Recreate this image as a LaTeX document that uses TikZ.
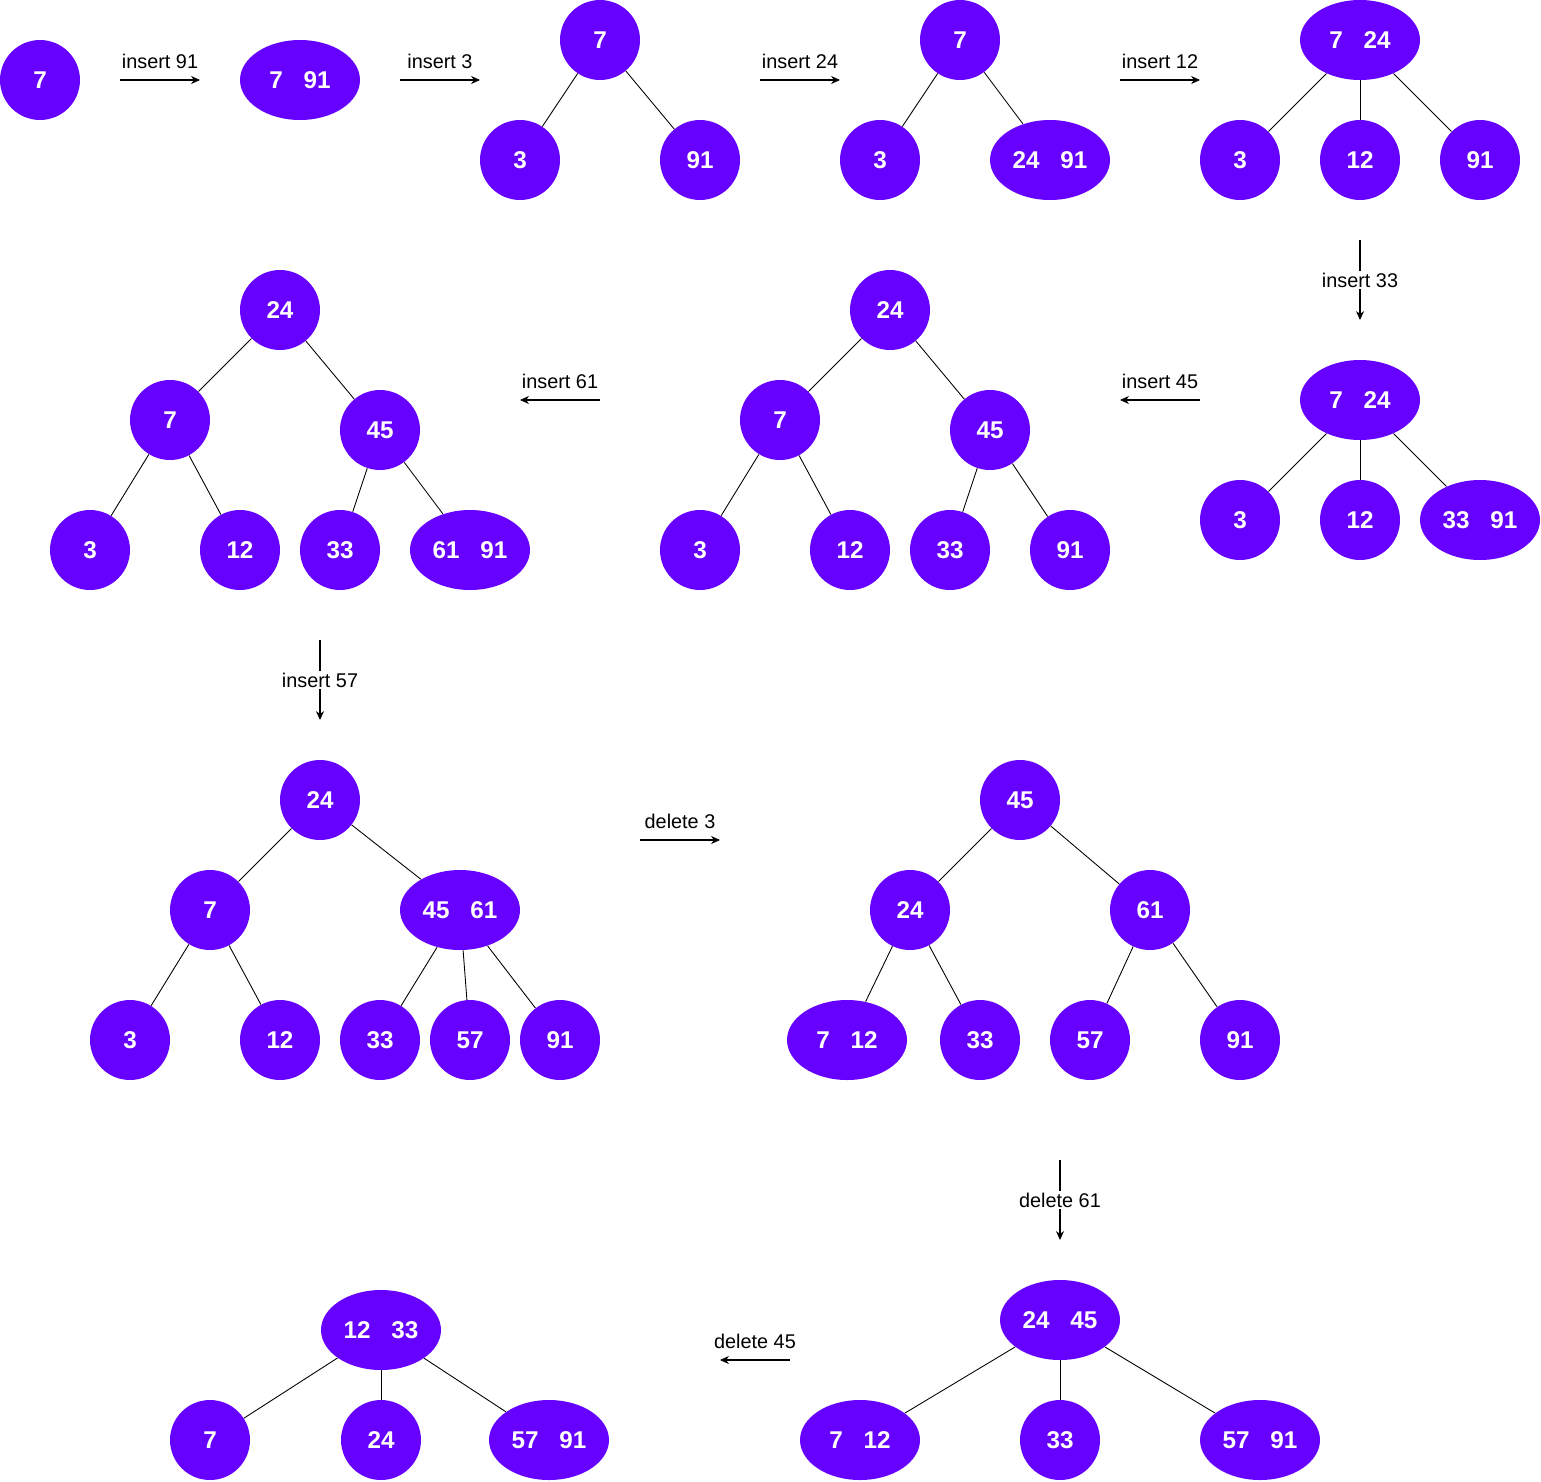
\documentclass[tikz,border=0pt]{standalone}
\usepackage{fontspec}
\setmainfont{Liberation Sans}
\usetikzlibrary{arrows.meta,shapes.geometric}
\definecolor{keypurple}{HTML}{6600FF}
\newcommand{\kgap}{\hspace*{0.85em}}

\begin{document}
\begin{tikzpicture}[x=0.02cm,y=-0.02cm,
    key/.style={fill=keypurple,text=white,font=\bfseries\fontsize{13.8}{16}\selectfont,inner sep=0pt},
    vertex/.style={key,circle,minimum size=1.6cm},
    pair/.style={key,ellipse,minimum width=2.4cm,minimum height=1.6cm},
    move/.style={draw,line width=0.6pt,-{Stealth[length=5pt,width=4.5pt,inset=1.5pt]}},
    movelabel/.style={font=\fontsize{11.3}{13}\selectfont,inner sep=1pt}]

      \useasboundingbox (0,0) rectangle (1541,1481);

      % first row
      \node[vertex] (a1) at (40,80)   {7};
      \node[pair]   (b1) at (300,80)  {7\kgap 91};

      \node[vertex] (c1) at (600,40)  {7};
      \node[vertex] (c2) at (520,160) {3};
      \node[vertex] (c3) at (700,160) {91};

      \node[vertex] (d1) at (960,40)   {7};
      \node[vertex] (d2) at (880,160)  {3};
      \node[pair]   (d3) at (1050,160) {24\kgap 91};

      \node[pair]   (e1) at (1360,40)  {7\kgap 24};
      \node[vertex] (e2) at (1240,160) {3};
      \node[vertex] (e3) at (1360,160) {12};
      \node[vertex] (e4) at (1480,160) {91};

      % second row
      \node[pair]   (f1) at (1360,400) {7\kgap 24};
      \node[vertex] (f2) at (1240,520) {3};
      \node[vertex] (f3) at (1360,520) {12};
      \node[pair]   (f4) at (1480,520) {33\kgap 91};

      \node[vertex] (g1) at (890,310)  {24};
      \node[vertex] (g2) at (780,420)  {7};
      \node[vertex] (g3) at (990,430)  {45};
      \node[vertex] (g4) at (700,550)  {3};
      \node[vertex] (g5) at (850,550)  {12};
      \node[vertex] (g6) at (950,550)  {33};
      \node[vertex] (g7) at (1070,550) {91};

      \node[vertex] (h1) at (280,310) {24};
      \node[vertex] (h2) at (170,420) {7};
      \node[vertex] (h3) at (380,430) {45};
      \node[vertex] (h4) at (90,550)  {3};
      \node[vertex] (h5) at (240,550) {12};
      \node[vertex] (h6) at (340,550) {33};
      \node[pair]   (h7) at (470,550) {61\kgap 91};

      % third row
      \node[vertex] (i1) at (320,800)  {24};
      \node[vertex] (i2) at (210,910)  {7};
      \node[pair]   (i3) at (460,910)  {45\kgap 61};
      \node[vertex] (i4) at (130,1040) {3};
      \node[vertex] (i5) at (280,1040) {12};
      \node[vertex] (i6) at (380,1040) {33};
      \node[vertex] (i7) at (470,1040) {57};
      \node[vertex] (i8) at (560,1040) {91};

      \node[vertex] (j1) at (1020,800)  {45};
      \node[vertex] (j2) at (910,910)   {24};
      \node[vertex] (j3) at (1150,910)  {61};
      \node[pair]   (j4) at (847,1040)  {7\kgap 12};
      \node[vertex] (j5) at (980,1040)  {33};
      \node[vertex] (j6) at (1090,1040) {57};
      \node[vertex] (j7) at (1240,1040) {91};

      % fourth row
      \node[pair]   (k1) at (1060,1320) {24\kgap 45};
      \node[pair]   (k2) at (860,1440)  {7\kgap 12};
      \node[vertex] (k3) at (1060,1440) {33};
      \node[pair]   (k4) at (1260,1440) {57\kgap 91};

      \node[pair]   (l1) at (381,1330) {12\kgap 33};
      \node[vertex] (l2) at (210,1440) {7};
      \node[vertex] (l3) at (381,1440) {24};
      \node[pair]   (l4) at (549,1440) {57\kgap 91};

      \begin{scope}[every edge/.style={draw,line width=0.5pt}]
        \path (c1) edge (c2) (c1) edge (c3);
        \path (d1) edge (d2) (d1) edge (d3);
        \path (e1) edge (e2) (e1) edge (e3) (e1) edge (e4);
        \path (f1) edge (f2) (f1) edge (f3) (f1) edge (f4);
        \path (g1) edge (g2) (g1) edge (g3);
        \path (g2) edge (g4) (g2) edge (g5) (g3) edge (g6) (g3) edge (g7);
        \path (h1) edge (h2) (h1) edge (h3);
        \path (h2) edge (h4) (h2) edge (h5) (h3) edge (h6) (h3) edge (h7);
        \path (i1) edge (i2) (i1) edge (i3);
        \path (i2) edge (i4) (i2) edge (i5);
        \path (i3) edge (i6) (i3) edge (i7) (i3) edge (i8);
        \path (j1) edge (j2) (j1) edge (j3);
        \path (j2) edge (j4) (j2) edge (j5) (j3) edge (j6) (j3) edge (j7);
        \path (k1) edge (k2) (k1) edge (k3) (k1) edge (k4);
        \path (l1) edge (l2) (l1) edge (l3) (l1) edge (l4);
      \end{scope}

      % steps between the trees
      \coordinate (s1)  at (120,80);    \coordinate (t1)  at (200,80);
      \coordinate (s2)  at (400,80);    \coordinate (t2)  at (480,80);
      \coordinate (s3)  at (760,80);    \coordinate (t3)  at (840,80);
      \coordinate (s4)  at (1120,80);   \coordinate (t4)  at (1200,80);
      \coordinate (s5)  at (1360,240);  \coordinate (t5)  at (1360,320);
      \coordinate (s6)  at (1200,400);  \coordinate (t6)  at (1120,400);
      \coordinate (s7)  at (600,400);   \coordinate (t7)  at (520,400);
      \coordinate (s8)  at (320,640);   \coordinate (t8)  at (320,720);
      \coordinate (s9)  at (640,840);   \coordinate (t9)  at (720,840);
      \coordinate (s10) at (1060,1160); \coordinate (t10) at (1060,1240);
      \coordinate (s11) at (790,1360);  \coordinate (t11) at (720,1360);

      \begin{scope}[every node/.style={movelabel}]
        \path[move] (s1) -- node[midway,above=5pt] {insert 91} (t1);
        \path[move] (s2) -- node[midway,above=5pt] {insert 3} (t2);
        \path[move] (s3) -- node[midway,above=5pt] {insert 24} (t3);
        \path[move] (s4) -- node[midway,above=5pt] {insert 12} (t4);
        \path[move] (s5) -- node[midway,fill=white] {insert 33} (t5);
        \path[move] (s6) -- node[midway,above=5pt] {insert 45} (t6);
        \path[move] (s7) -- node[midway,above=5pt] {insert 61} (t7);
        \path[move] (s8) -- node[midway,fill=white] {insert 57} (t8);
        \path[move] (s9) -- node[midway,above=5pt] {delete 3} (t9);
        \path[move] (s10) -- node[midway,fill=white] {delete 61} (t10);
        \path[move] (s11) -- node[midway,above=5pt] {delete 45} (t11);
      \end{scope}

    \end{tikzpicture}
\end{document}
